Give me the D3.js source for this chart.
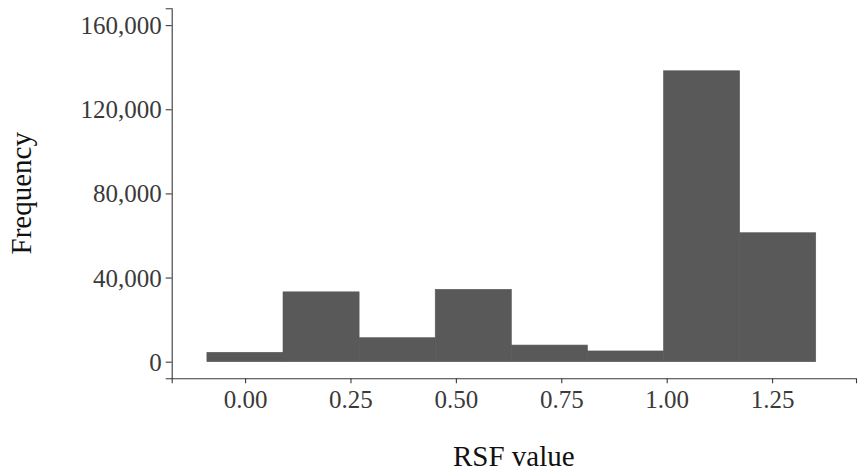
<!DOCTYPE html>
<html>
<head>
<meta charset="utf-8">
<script src="https://cdn.jsdelivr.net/npm/d3@7"></script>
<style>
  body { margin: 0; background: #fff; }
  svg { display: block; }
  .axis text { font-family: "Liberation Serif", "Times New Roman", serif; font-size: 25px; fill: #3a3a3a; }
  .axis path, .axis line { stroke: #3a3a3a; stroke-width: 1.1; }
  .title { font-family: "Liberation Serif", "Times New Roman", serif; font-size: 29px; fill: #111; }
</style>
</head>
<body>
<script>
// histogram bins (edges) and counts
var binEdges = [-0.0905, 0.0900, 0.2705, 0.4510, 0.6315, 0.8120, 0.9925, 1.1730, 1.3535];
var counts = [4450, 33200, 11400, 34400, 7900, 5100, 138300, 61300];
var xTicks = [0, 0.25, 0.5, 0.75, 1.0, 1.25];
var yTicks = [0, 40000, 80000, 120000, 160000];

var W = 858, H = 473;
var svg = d3.select("body").append("svg")
	.attr("width", W)
	.attr("height", H);

var x = d3.scaleLinear().domain([-0.174, 1.449]).range([171.7, 856]);
var y = d3.scaleLinear().domain([-7900, 168000]).range([378.3, 8.3]);

var bars = [];
for (var i = 0; i < counts.length; i++) {
	bars.push({x0: binEdges[i], x1: binEdges[i + 1], n: counts[i]});
}

svg.append("g").selectAll("rect")
	.data(bars)
	.enter().append("rect")
	.attr("x", function(d){ return x(d.x0); })
	.attr("width", function(d){ return x(d.x1) - x(d.x0); })
	.attr("y", function(d){ return y(d.n); })
	.attr("height", function(d){ return y(0) - y(d.n); })
	.attr("fill", "#595959")
	.attr("stroke", "#595959")
	.attr("stroke-width", 0.6);

var xAxis = svg.append("g")
	.attr("class", "axis")
	.attr("transform", "translate(0," + y.range()[0] + ")")
	.call(d3.axisBottom(x).tickValues(xTicks).tickFormat(d3.format(".2f")).tickSizeOuter(0).tickSize(5).tickPadding(5));

var yAxis = svg.append("g")
	.attr("class", "axis")
	.attr("transform", "translate(" + x.range()[0] + ",0)")
	.call(d3.axisLeft(y).tickValues(yTicks).tickFormat(d3.format(",")).tickSizeOuter(0).tickSize(6).tickPadding(4));

xAxis.selectAll("text").attr("dy", "0.78em");
yAxis.selectAll("text").attr("dy", "0.34em");

svg.append("text")
	.attr("class", "title")
	.attr("x", (x.range()[0] + x.range()[1]) / 2)
	.attr("y", 466)
	.attr("text-anchor", "middle")
	.text("RSF value");

svg.append("text")
	.attr("class", "title")
	.attr("transform", "translate(31," + ((y.range()[0] + y.range()[1]) / 2) + ") rotate(-90)")
	.attr("text-anchor", "middle")
	.text("Frequency");
</script>
</body>
</html>
